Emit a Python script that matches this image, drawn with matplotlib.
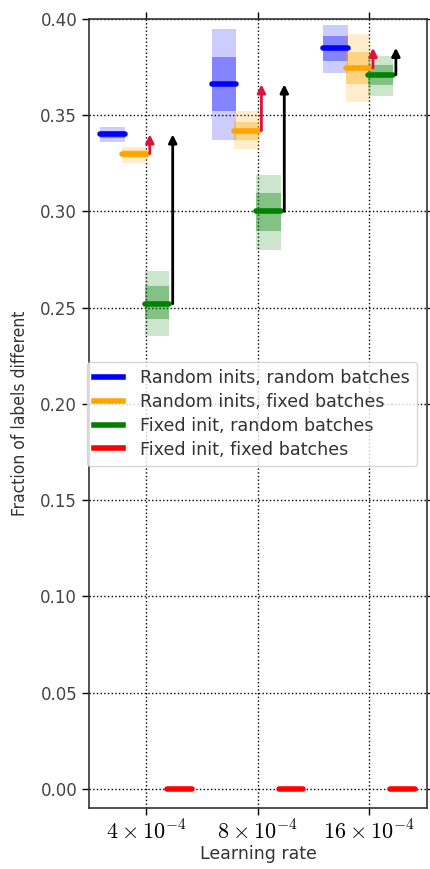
import matplotlib
matplotlib.use('Agg')
from matplotlib import pyplot as plt
from matplotlib.lines import Line2D
import numpy as np

plt.rcParams['font.family'] = ['DejaVu Sans']
plt.rcParams['mathtext.fontset'] = 'cm'

lr_labels = [r'$4\times10^{-4}$', r'$8\times10^{-4}$', r'$16\times10^{-4}$']
series_names = ['Random inits, random batches', 'Random inits, fixed batches',
                'Fixed init, random batches', 'Fixed init, fixed batches']
colors = ['blue', 'orange', 'green', 'red']

# medians and two bands (inner, outer) per learning rate
blue_med = [0.340, 0.366, 0.385]
blue_in = [(0.338, 0.342), (0.352, 0.380), (0.378, 0.391)]
blue_out = [(0.336, 0.344), (0.337, 0.395), (0.372, 0.397)]

orange_med = [0.330, 0.342, 0.3745]
orange_in = [(0.328, 0.332), (0.337, 0.3465), (0.366, 0.383)]
orange_out = [(0.325, 0.3335), (0.3325, 0.352), (0.357, 0.392)]

green_med = [0.252, 0.300, 0.371]
green_in = [(0.244, 0.261), (0.290, 0.3095), (0.3657, 0.376)]
green_out = [(0.235, 0.269), (0.280, 0.319), (0.360, 0.381)]

red_med = [0.0, 0.0, 0.0]

meds = [blue_med, orange_med, green_med, red_med]
inners = [blue_in, orange_in, green_in, None]
outers = [blue_out, orange_out, green_out, None]

fig = plt.figure(figsize=(4.31, 8.69), dpi=100)
ax = fig.add_axes([0.2065, 0.0702, 0.7845, 0.908])

xs = np.arange(len(lr_labels))
offsets = [-0.3, -0.1, 0.1, 0.3]
w = 0.22

for k in range(4):
    for i in xs:
        xc = i + offsets[k]
        if outers[k] is not None:
            lo, hi = outers[k][i]
            ax.bar(xc, hi - lo, bottom=lo, width=w, color=colors[k], alpha=0.2, lw=0, zorder=2)
            lo, hi = inners[k][i]
            ax.bar(xc, hi - lo, bottom=lo, width=w, color=colors[k], alpha=0.35, lw=0, zorder=2)
        ax.plot([xc - w / 2, xc + w / 2], [meds[k][i]] * 2, color=colors[k], lw=4,
                solid_capstyle='round', zorder=4)

# arrows: fixed batches -> random, fixed init -> random inits
for i in xs:
    ax.annotate('', xy=(i + 0.035, blue_med[i]), xytext=(i + 0.035, orange_med[i]),
                arrowprops=dict(arrowstyle='-|>', color='crimson', lw=2,
                                shrinkA=0, shrinkB=0, mutation_scale=12), zorder=5)
    ax.annotate('', xy=(i + 0.24, blue_med[i]), xytext=(i + 0.24, green_med[i]),
                arrowprops=dict(arrowstyle='-|>', color='black', lw=2,
                                shrinkA=0, shrinkB=0, mutation_scale=12), zorder=5)

ax.set_xlim(-0.51, 2.52)
ax.set_ylim(-0.01, 0.40)
ax.set_xticks(xs)
ax.set_xticklabels(lr_labels, fontsize=16)
ax.set_yticks(np.arange(0, 0.41, 0.05))
ax.set_yticklabels(['%.2f' % v for v in np.arange(0, 0.41, 0.05)], fontsize=12, color='#444444')
ax.tick_params(direction='out', top=True, right=True, length=5, width=1)
ax.grid(True, linestyle=':', color='k', lw=1)
ax.set_axisbelow(True)
for s in ax.spines.values():
    s.set_linewidth(1.2)
    s.set_color('#333333')

ax.set_xlabel('Learning rate', fontsize=12.5, color='#333333', labelpad=1)
ax.set_ylabel('Fraction of labels different', fontsize=12.5, color='#333333',
              fontstretch='condensed', labelpad=8)

handles = [Line2D([0], [0], color=c, lw=4) for c in colors]
ax.legend(handles, series_names, loc='upper left', bbox_to_anchor=(-0.006, 0.565),
          borderaxespad=0, fontsize=12.6, handlelength=1.65, handletextpad=1.0,
          labelspacing=0.33, frameon=True, fancybox=True, labelcolor='#333333')

fig.savefig('out.png', dpi=100)
